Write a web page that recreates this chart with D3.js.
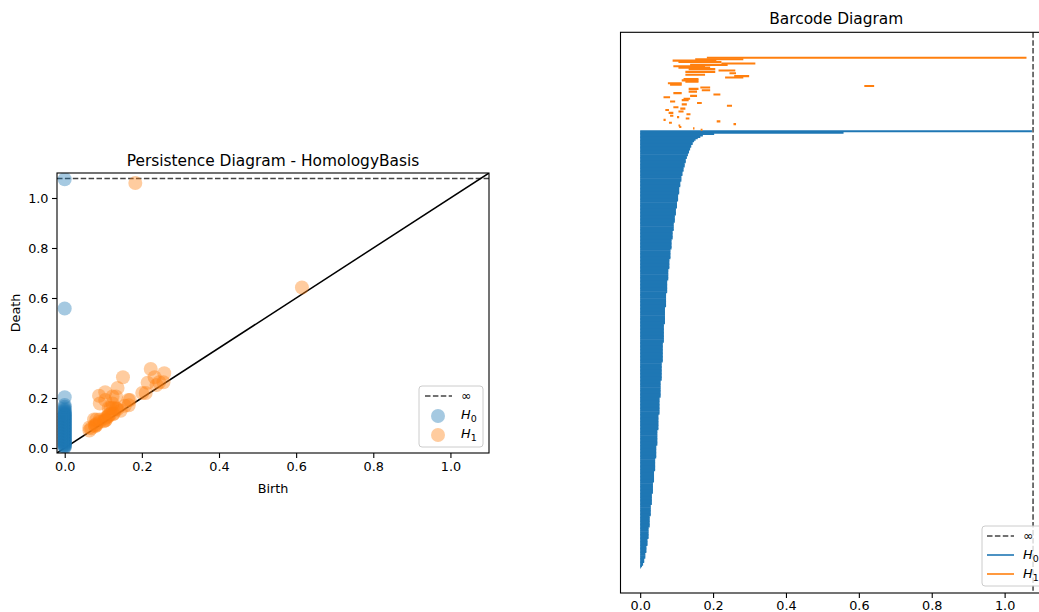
<!DOCTYPE html>
<html>
<head>
<meta charset="utf-8">
<script src="https://cdnjs.cloudflare.com/ajax/libs/d3/7.8.5/d3.min.js"></script>
<style>
  body { margin: 0; background: #fff; }
  text { font-family: "DejaVu Sans", sans-serif; fill: #000; }
</style>
</head>
<body>
<div id="chart"></div>
<script>
// death value used for the "infinity" line
const infDeath = 1.078;

// H0 bars all start at 0; deaths with how many bars share (roughly) that death
const h0Deaths = [0.002, 0.005, 0.008, 0.011, 0.014, 0.017, 0.020, 0.023, 0.026, 0.029,
  0.032, 0.035, 0.038, 0.041, 0.044, 0.047, 0.050, 0.053, 0.056, 0.059,
  0.062, 0.065, 0.068, 0.071, 0.074, 0.077, 0.080, 0.083, 0.086, 0.089,
  0.092, 0.095, 0.098, 0.101, 0.104, 0.107, 0.110, 0.113, 0.116, 0.119,
  0.122, 0.125, 0.128, 0.131, 0.134, 0.137, 0.140, 0.144, 0.148, 0.152,
  0.158, 0.165, 0.172, 0.203, 0.558, 1.075];
const h0Counts = [1, 1, 2, 3, 4, 5, 5, 8, 8, 8,
  8, 8, 8, 9, 9, 11, 11, 12, 12, 13,
  14, 13, 12, 10, 9, 8, 7, 7, 7, 6,
  6, 5, 5, 5, 5, 5, 4, 4, 3, 3,
  3, 3, 2, 2, 2, 2, 2, 2, 1, 1,
  1, 1, 1, 1, 1, 1];

// H1 pairs, in barcode order (bottom to top)
const h1Births = [0.166, 0.145, 0.107, 0.105, 0.256, 0.079, 0.210, 0.064, 0.125, 0.101,
  0.082, 0.127, 0.078, 0.105, 0.069, 0.110, 0.091, 0.238, 0.114, 0.156,
  0.082, 0.114, 0.119, 0.064, 0.137, 0.201, 0.091, 0.133, 0.169, 0.133,
  0.165, 0.615, 0.082, 0.076, 0.124, 0.114, 0.119, 0.233, 0.258, 0.124,
  0.245, 0.124, 0.215, 0.133, 0.105, 0.091, 0.137, 0.223, 0.105, 0.089,
  0.151, 0.183];
const h1Deaths = [0.171, 0.149, 0.113, 0.110, 0.263, 0.087, 0.220, 0.070, 0.135, 0.107,
  0.091, 0.138, 0.091, 0.119, 0.079, 0.124, 0.105, 0.252, 0.128, 0.169,
  0.096, 0.133, 0.137, 0.082, 0.156, 0.220, 0.114, 0.156, 0.192, 0.160,
  0.192, 0.642, 0.114, 0.114, 0.160, 0.160, 0.160, 0.283, 0.299, 0.178,
  0.263, 0.206, 0.261, 0.206, 0.192, 0.178, 0.240, 0.316, 0.223, 0.209,
  0.283, 1.060];

const diagTicks = [0, 0.2, 0.4, 0.6, 0.8, 1.0];
const barTicks = [0, 0.2, 0.4, 0.6, 0.8, 1.0];

const blue = "#1f77b4";
const orange = "#ff7f0e";
const tickFont = 12.8;
const titleFont = 15.4;

const svg = d3.select("#chart").append("svg")
  .attr("width", 1039)
  .attr("height", 612);

const fmt = d3.format(".1f");

// ---------- persistence diagram ----------
const pd = { left: 57, top: 173, right: 489, bottom: 453 };

const x = d3.scaleLinear().domain([-0.02, 1.1]).range([pd.left, pd.right]);
const y = d3.scaleLinear().domain([-0.02, 1.1]).range([pd.bottom, pd.top]);

svg.append("clipPath").attr("id", "clipPd")
  .append("rect")
  .attr("x", pd.left).attr("y", pd.top)
  .attr("width", pd.right - pd.left).attr("height", pd.bottom - pd.top);

const pdG = svg.append("g").attr("clip-path", "url(#clipPd)");

// inf line
pdG.append("line")
  .attr("x1", x(-0.02)).attr("x2", x(1.1))
  .attr("y1", y(infDeath)).attr("y2", y(infDeath))
  .attr("stroke", "#444").attr("stroke-width", 1.5)
  .attr("stroke-dasharray", "5.5,2.4");

// diagonal
pdG.append("line")
  .attr("x1", x(-0.02)).attr("y1", y(-0.02))
  .attr("x2", x(1.1)).attr("y2", y(1.1))
  .attr("stroke", "#000").attr("stroke-width", 1.5);

const h0Points = h0Deaths.map(d => ({ b: 0, d: d }));
pdG.append("g").selectAll("circle")
  .data(h0Points)
  .join("circle")
  .attr("cx", d => x(d.b))
  .attr("cy", d => y(d.d))
  .attr("r", 7)
  .attr("fill", blue)
  .attr("fill-opacity", 0.4);

const h1Points = h1Births.map((b, i) => ({ b: b, d: h1Deaths[i] }));
pdG.append("g").selectAll("circle")
  .data(h1Points)
  .join("circle")
  .attr("cx", d => x(d.b))
  .attr("cy", d => y(d.d))
  .attr("r", 7)
  .attr("fill", orange)
  .attr("fill-opacity", 0.4);

// axes
const xAxis = svg.append("g")
  .attr("transform", `translate(0,${pd.bottom})`)
  .call(d3.axisBottom(x).tickValues(diagTicks).tickFormat(fmt).tickSize(5).tickPadding(3.5));
const yAxis = svg.append("g")
  .attr("transform", `translate(${pd.left},0)`)
  .call(d3.axisLeft(y).tickValues(diagTicks).tickFormat(fmt).tickSize(5).tickPadding(3.5));
[xAxis, yAxis].forEach(a => {
  a.select(".domain").remove();
  a.selectAll("text").attr("font-size", tickFont).style("font-family", "DejaVu Sans");
  a.selectAll("line").attr("stroke", "#000").attr("stroke-width", 1.1);
});

svg.append("rect")
  .attr("x", pd.left).attr("y", pd.top)
  .attr("width", pd.right - pd.left).attr("height", pd.bottom - pd.top)
  .attr("fill", "none").attr("stroke", "#000").attr("stroke-width", 1.1);

svg.append("text")
  .attr("x", (pd.left + pd.right) / 2).attr("y", 166)
  .attr("text-anchor", "middle").attr("font-size", titleFont)
  .text("Persistence Diagram - HomologyBasis");

svg.append("text")
  .attr("x", (pd.left + pd.right) / 2).attr("y", 493)
  .attr("text-anchor", "middle").attr("font-size", tickFont)
  .text("Birth");

svg.append("text")
  .attr("transform", `translate(20,${(pd.top + pd.bottom) / 2}) rotate(-90)`)
  .attr("text-anchor", "middle").attr("font-size", tickFont)
  .text("Death");

// legend (left)
function hLabel(sel, sub) {
  sel.append("tspan").attr("font-style", "italic").text("H");
  sel.append("tspan").attr("dy", 3).attr("font-size", 9.5).text(sub);
}

const lgL = svg.append("g");
lgL.append("rect")
  .attr("x", 419).attr("y", 386).attr("width", 64).attr("height", 61).attr("rx", 3)
  .attr("fill", "#fff").attr("fill-opacity", 0.8)
  .attr("stroke", "#ccc").attr("stroke-width", 1);
lgL.append("line")
  .attr("x1", 425).attr("x2", 452).attr("y1", 396).attr("y2", 396)
  .attr("stroke", "#444").attr("stroke-width", 1.5).attr("stroke-dasharray", "5.5,2.4");
lgL.append("text").attr("x", 461).attr("y", 400).attr("font-size", tickFont).text("∞");
lgL.append("circle").attr("cx", 438).attr("cy", 416).attr("r", 7)
  .attr("fill", blue).attr("fill-opacity", 0.4);
lgL.append("text").attr("x", 461).attr("y", 419).attr("font-size", tickFont).call(hLabel, "0");
lgL.append("circle").attr("cx", 438).attr("cy", 435).attr("r", 7)
  .attr("fill", orange).attr("fill-opacity", 0.4);
lgL.append("text").attr("x", 461).attr("y", 438).attr("font-size", tickFont).call(hLabel, "1");

// ---------- barcode diagram ----------
const bc = { left: 620.5, top: 32.3, right: 1052, bottom: 593 };

// expand H0 groups into single bars
const h0Bars = h0Deaths.flatMap((d, i) => d3.range(h0Counts[i]).map(() => ({ b: 0, d: d, dim: 0 })));
const h1Bars = h1Births.map((b, i) => ({ b: b, d: h1Deaths[i], dim: 1 }));
const bars = h0Bars.concat(h1Bars);
bars.forEach((bar, i) => { bar.idx = i; });

const n = bars.length - 1;
const bx = d3.scaleLinear().domain([-0.054, 1.13]).range([bc.left, bc.right]);
const by = d3.scaleLinear().domain([-0.05 * n, 1.05 * n]).range([bc.bottom, bc.top]);

svg.append("clipPath").attr("id", "clipBc")
  .append("rect")
  .attr("x", bc.left).attr("y", bc.top)
  .attr("width", bc.right - bc.left).attr("height", bc.bottom - bc.top);

const bcG = svg.append("g").attr("clip-path", "url(#clipBc)");

bcG.append("g").selectAll("line")
  .data(bars)
  .join("line")
  .attr("x1", d => bx(d.b))
  .attr("x2", d => bx(d.d))
  .attr("y1", d => by(d.idx))
  .attr("y2", d => by(d.idx))
  .attr("stroke", d => d.dim === 0 ? blue : orange)
  .attr("stroke-width", 2.1);

bcG.append("line")
  .attr("x1", bx(infDeath)).attr("x2", bx(infDeath))
  .attr("y1", bc.top).attr("y2", bc.bottom)
  .attr("stroke", "#444").attr("stroke-width", 1.5)
  .attr("stroke-dasharray", "5.5,2.4");

const bAxis = svg.append("g")
  .attr("transform", `translate(0,${bc.bottom})`)
  .call(d3.axisBottom(bx).tickValues(barTicks).tickFormat(fmt).tickSize(5).tickPadding(2.5));
bAxis.select(".domain").remove();
bAxis.selectAll("text").attr("font-size", tickFont).style("font-family", "DejaVu Sans");
bAxis.selectAll("line").attr("stroke", "#000").attr("stroke-width", 1.1);

svg.append("rect")
  .attr("x", bc.left).attr("y", bc.top)
  .attr("width", bc.right - bc.left).attr("height", bc.bottom - bc.top)
  .attr("fill", "none").attr("stroke", "#000").attr("stroke-width", 1.1);

svg.append("text")
  .attr("x", (bc.left + bc.right) / 2).attr("y", 24)
  .attr("text-anchor", "middle").attr("font-size", titleFont)
  .text("Barcode Diagram");

// legend (right)
const lgR = svg.append("g");
lgR.append("rect")
  .attr("x", 982).attr("y", 526).attr("width", 64).attr("height", 60).attr("rx", 3)
  .attr("fill", "#fff").attr("fill-opacity", 0.8)
  .attr("stroke", "#ccc").attr("stroke-width", 1);
lgR.append("line")
  .attr("x1", 987).attr("x2", 1014).attr("y1", 536).attr("y2", 536)
  .attr("stroke", "#444").attr("stroke-width", 1.5).attr("stroke-dasharray", "5.5,2.4");
lgR.append("text").attr("x", 1023).attr("y", 540).attr("font-size", tickFont).text("∞");
lgR.append("line")
  .attr("x1", 987).attr("x2", 1014).attr("y1", 555).attr("y2", 555)
  .attr("stroke", blue).attr("stroke-width", 1.6);
lgR.append("text").attr("x", 1023).attr("y", 559).attr("font-size", tickFont).call(hLabel, "0");
lgR.append("line")
  .attr("x1", 987).attr("x2", 1014).attr("y1", 574).attr("y2", 574)
  .attr("stroke", orange).attr("stroke-width", 1.6);
lgR.append("text").attr("x", 1023).attr("y", 578).attr("font-size", tickFont).call(hLabel, "1");
</script>
</body>
</html>
